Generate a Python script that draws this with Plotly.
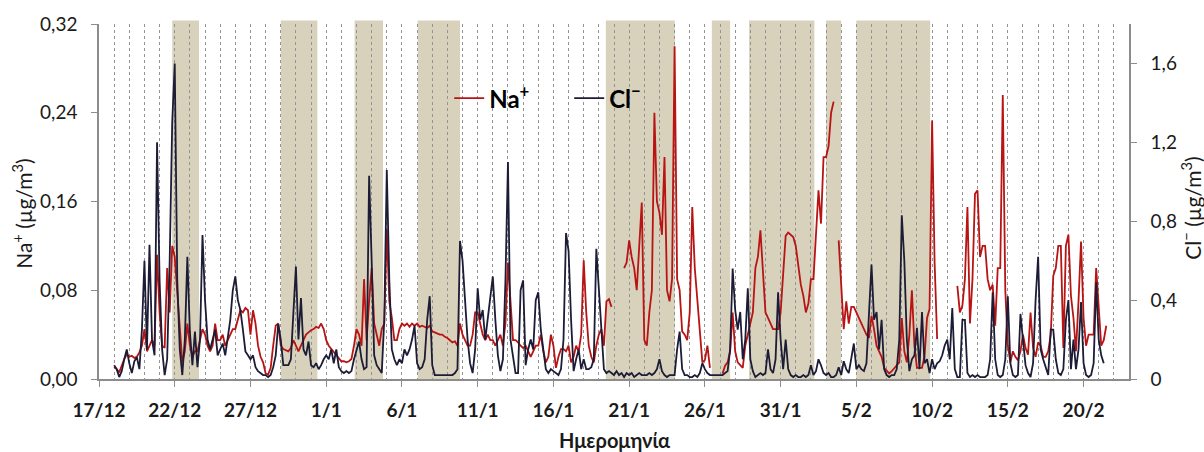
import plotly.graph_objects as go
import pandas as pd

# ---------------- data (4-hourly, starting 18/12 00:00) ----------------
START = "2013-12-18 00:00"
STEP = "4h"

NA = [
    0.011, 0.009, 0.006, 0.012, 0.018, 0.022,   # 18/12
    0.020, 0.021, 0.019, 0.020, 0.024, 0.030,   # 19/12
    0.045, 0.025, 0.030, 0.035, 0.030, 0.112,   # 20/12
    0.060, 0.030, 0.028, 0.100, 0.060, 0.120,   # 21/12
    0.110, 0.075, 0.040, 0.015, 0.025, 0.050,   # 22/12
    0.030, 0.020, 0.025, 0.025, 0.035, 0.045,   # 23/12
    0.040, 0.030, 0.025, 0.030, 0.050, 0.035,   # 24/12
    0.035, 0.040, 0.030, 0.035, 0.040, 0.045,   # 25/12
    0.045, 0.055, 0.062, 0.060, 0.064, 0.062,   # 26/12
    0.040, 0.062, 0.050, 0.030, 0.020, 0.015,   # 27/12
    0.005, 0.004, 0.010, 0.030, 0.048, 0.050,   # 28/12
    0.030, 0.027, 0.026, 0.025, 0.028, 0.035,   # 29/12
    0.030, 0.025, 0.030, 0.035, 0.040, 0.042,   # 30/12
    0.044, 0.045, 0.047, 0.046, 0.050, 0.045,   # 31/12
    0.035, 0.030, 0.027, 0.025, 0.022, 0.018,   # 1/1
    0.016, 0.016, 0.015, 0.016, 0.018, 0.030,   # 2/1
    0.045, 0.040, 0.030, 0.090, 0.035, 0.070,   # 3/1
    0.100, 0.050, 0.040, 0.030, 0.045, 0.050,   # 4/1
    0.135, 0.070, 0.055, 0.035, 0.035, 0.045,   # 5/1
    0.050, 0.048, 0.050, 0.047, 0.050, 0.048,   # 6/1
    0.050, 0.047, 0.048, 0.047, 0.046, 0.048,   # 7/1
    0.043, 0.042, 0.041, 0.040, 0.040, 0.038,   # 8/1
    0.037, 0.035, 0.033, 0.034, 0.030, 0.050,   # 9/1
    0.040, 0.035, 0.030, 0.030, 0.040, 0.060,   # 10/1
    0.060, 0.050, 0.040, 0.035, 0.040, 0.035,   # 11/1
    0.035, 0.030, 0.035, 0.040, 0.030, 0.050,   # 12/1
    0.105, 0.070, 0.035, 0.035, 0.033, 0.030,   # 13/1
    0.028, 0.030, 0.025, 0.020, 0.025, 0.030,   # 14/1
    0.030, 0.040, 0.025, 0.015, 0.020, 0.040,   # 15/1
    0.030, 0.010, 0.020, 0.027, 0.027, 0.025,   # 16/1
    0.030, 0.015, 0.020, 0.030, 0.025, 0.040,   # 17/1
    0.107, 0.060, 0.030, 0.020, 0.015, 0.030,   # 18/1
    0.040, 0.045, 0.030, 0.070, 0.072, 0.065,   # 19/1
    None, None, None, None, 0.100, 0.105,       # 20/1
    0.125, 0.110, 0.100, 0.080, 0.120, 0.159,   # 21/1
    0.035, 0.030, 0.060, 0.080, 0.240, 0.160,   # 22/1
    0.150, 0.130, 0.200, 0.080, 0.070, 0.090,   # 23/1
    0.300, 0.090, 0.080, 0.043, 0.040, 0.035,   # 24/1
    0.060, 0.155, 0.100, 0.070, 0.040, 0.015,   # 25/1
    0.017, 0.030, 0.010, None, None, None,      # 26/1
    None, 0.005, 0.012, 0.015, 0.025, 0.060,    # 27/1
    0.025, 0.015, 0.012, 0.010, 0.030, 0.040,   # 28/1
    0.050, 0.060, 0.100, 0.110, 0.134, 0.100,   # 29/1
    0.060, 0.055, 0.050, 0.045, 0.045, 0.045,   # 30/1
    0.060, 0.100, 0.129, 0.132, 0.130, 0.128,   # 31/1
    0.120, 0.100, 0.085, 0.075, 0.060, 0.068,   # 1/2
    0.090, 0.090, 0.130, 0.170, 0.140, 0.200,   # 2/2
    0.200, 0.210, 0.240, 0.250, None, 0.125,    # 3/2
    0.080, 0.045, 0.070, 0.050, 0.065, 0.065,   # 4/2
    0.060, 0.055, 0.050, 0.045, 0.040, 0.037,   # 5/2
    0.057, 0.045, 0.030, 0.025, 0.020, 0.010,   # 6/2
    0.007, 0.005, 0.007, 0.010, 0.012, 0.015,   # 7/2
    0.055, 0.025, 0.015, 0.040, 0.080, 0.030,   # 8/2
    0.010, 0.010, 0.010, 0.020, 0.055, 0.063,   # 9/2
    0.233, 0.105, 0.036, None, None, None,      # 10/2
    None, None, None, None, 0.084, 0.060,       # 11/2
    0.066, 0.090, 0.155, 0.050, 0.090, 0.167,   # 12/2
    0.170, 0.110, 0.120, 0.120, 0.090, 0.080,   # 13/2
    0.085, 0.048, 0.100, 0.100, 0.256, 0.080,   # 14/2
    0.030, 0.015, 0.025, 0.020, 0.017, 0.025,   # 15/2
    0.040, 0.028, 0.022, 0.060, 0.028, 0.020,   # 16/2
    0.033, 0.030, 0.020, 0.020, 0.025, 0.040,   # 17/2
    0.093, 0.100, 0.120, 0.120, 0.028, 0.120,   # 18/2
    0.130, 0.075, 0.055, 0.025, 0.070, 0.124,   # 19/2
    0.055, 0.030, 0.040, 0.040, 0.040, 0.100,   # 20/2
    0.060, 0.030, 0.035, 0.048,                 # 21/2
]

CL = [
    0.07, 0.05, 0.01, 0.04, 0.10, 0.15,   # 18/12
    0.08, 0.03, 0.09, 0.11, 0.05, 0.25,   # 19/12
    0.60, 0.15, 0.68, 0.20, 0.12, 1.20,   # 20/12
    0.50, 0.15, 0.02, 0.10, 0.60, 1.30,   # 21/12
    1.60, 0.50, 0.15, 0.02, 0.20, 0.62,   # 22/12
    0.24, 0.07, 0.24, 0.06, 0.20, 0.73,   # 23/12
    0.40, 0.20, 0.15, 0.20, 0.25, 0.12,   # 24/12
    0.15, 0.18, 0.12, 0.20, 0.30, 0.45,   # 25/12
    0.52, 0.40, 0.35, 0.25, 0.14, 0.12,   # 26/12
    0.10, 0.12, 0.06, 0.04, 0.03, 0.02,   # 27/12
    0.02, 0.01, 0.02, 0.06, 0.12, 0.28,   # 28/12
    0.20, 0.07, 0.07, 0.07, 0.10, 0.37,   # 29/12
    0.57, 0.20, 0.41, 0.15, 0.12, 0.19,   # 30/12
    0.07, 0.06, 0.08, 0.05, 0.07, 0.10,   # 31/12
    0.12, 0.10, 0.15, 0.08, 0.15, 0.06,   # 1/1
    0.04, 0.03, 0.04, 0.03, 0.04, 0.10,   # 2/1
    0.15, 0.19, 0.10, 0.05, 0.06, 1.03,   # 3/1
    0.60, 0.12, 0.07, 0.05, 0.03, 0.30,   # 4/1
    1.06, 0.50, 0.15, 0.10, 0.07, 0.10,   # 5/1
    0.08, 0.15, 0.12, 0.15, 0.20, 0.27,   # 6/1
    0.08, 0.05, 0.06, 0.10, 0.30, 0.42,   # 7/1
    0.07, 0.02, 0.02, 0.02, 0.02, 0.02,   # 8/1
    0.02, 0.02, 0.02, 0.03, 0.05, 0.70,   # 9/1
    0.60, 0.40, 0.20, 0.08, 0.03, 0.15,   # 10/1
    0.46, 0.30, 0.35, 0.20, 0.30, 0.40,   # 11/1
    0.52, 0.30, 0.12, 0.04, 0.10, 0.50,   # 12/1
    1.10, 0.20, 0.12, 0.03, 0.03, 0.45,   # 13/1
    0.50, 0.07, 0.15, 0.20, 0.15, 0.40,   # 14/1
    0.44, 0.25, 0.15, 0.05, 0.03, 0.05,   # 15/1
    0.04, 0.03, 0.02, 0.05, 0.20, 0.74,   # 16/1
    0.65, 0.30, 0.04, 0.10, 0.15, 0.05,   # 17/1
    0.10, 0.05, 0.05, 0.06, 0.10, 0.66,   # 18/1
    0.45, 0.20, 0.05, 0.03, 0.04, 0.03,   # 19/1
    0.02, 0.04, 0.02, 0.03, 0.01, 0.03,   # 20/1
    0.02, 0.03, 0.01, 0.02, 0.03, 0.02,   # 21/1
    0.02, 0.02, 0.03, 0.02, 0.03, 0.05,   # 22/1
    0.10, 0.04, 0.02, 0.01, 0.02, 0.02,   # 23/1
    0.02, 0.15, 0.24, 0.05, 0.02, 0.02,   # 24/1
    0.01, 0.01, 0.02, 0.01, 0.03, 0.08,   # 25/1
    0.05, 0.03, 0.02, 0.02, 0.02, 0.02,   # 26/1
    0.02, 0.02, 0.03, 0.04, 0.15, 0.56,   # 27/1
    0.35, 0.25, 0.34, 0.10, 0.20, 0.46,   # 28/1
    0.10, 0.04, 0.01, 0.02, 0.03, 0.02,   # 29/1
    0.03, 0.15, 0.05, 0.03, 0.10, 0.44,   # 30/1
    0.20, 0.05, 0.20, 0.05, 0.02, 0.01,   # 31/1
    0.02, 0.01, 0.01, 0.02, 0.01, 0.02,   # 1/2
    0.07, 0.02, 0.04, 0.10, 0.07, 0.03,   # 2/2
    0.02, 0.03, 0.01, 0.01, 0.02, 0.06,   # 3/2
    0.02, 0.09, 0.05, 0.03, 0.10, 0.18,   # 4/2
    0.05, 0.07, 0.05, 0.04, 0.08, 0.30,   # 5/2
    0.58, 0.30, 0.34, 0.15, 0.30, 0.05,   # 6/2
    0.02, 0.01, 0.02, 0.02, 0.05, 0.20,   # 7/2
    0.83, 0.60, 0.20, 0.04, 0.10, 0.12,   # 8/2
    0.26, 0.05, 0.34, 0.08, 0.10, 0.03,   # 9/2
    0.10, 0.05, 0.08, 0.09, 0.12, 0.17,   # 10/2
    0.20, 0.10, 0.36, 0.05, 0.01, 0.01,   # 11/2
    0.30, 0.30, 0.03, 0.01, 0.02, 0.01,   # 12/2
    0.02, 0.01, 0.01, 0.01, 0.02, 0.10,   # 13/2
    0.44, 0.10, 0.02, 0.01, 0.02, 0.10,   # 14/2
    0.42, 0.08, 0.02, 0.01, 0.02, 0.33,   # 15/2
    0.20, 0.07, 0.03, 0.01, 0.08, 0.40,   # 16/2
    0.62, 0.15, 0.10, 0.06, 0.02, 0.25,   # 17/2
    0.25, 0.10, 0.03, 0.02, 0.05, 0.30,   # 18/2
    0.40, 0.05, 0.20, 0.05, 0.15, 0.39,   # 19/2
    0.08, 0.02, 0.01, 0.02, 0.08, 0.49,   # 20/2
    0.20, 0.12, 0.08, None,               # 21/2
]

# shaded periods
SHADE_START = ["2013-12-21 20:00", "2013-12-29 00:00", "2014-01-02 21:00",
               "2014-01-07 01:00", "2014-01-19 11:00", "2014-01-26 11:00",
               "2014-01-28 22:00", "2014-02-03 00:00", "2014-02-05 00:00"]
SHADE_END = ["2013-12-23 14:30", "2013-12-31 10:00", "2014-01-04 18:00",
             "2014-01-09 20:00", "2014-01-24 00:30", "2014-01-27 16:00",
             "2014-02-02 05:30", "2014-02-04 00:00", "2014-02-09 21:00"]

X_RANGE = ["2013-12-17", "2014-02-23"]
X_TICK0 = "2013-12-17"
NA_TICKS = [0.0, 0.08, 0.16, 0.24, 0.32]
NA_TICKTEXT = ["0,00", "0,08", "0,16", "0,24", "0,32"]
CL_TICKS = [0.0, 0.4, 0.8, 1.2, 1.6]
CL_TICKTEXT = ["0", "0,4", "0,8", "1,2", "1,6"]

NA_NAME = "Na<sup>+</sup>"
CL_NAME = "Cl<sup>\u2212</sup>"
Y1_TITLE = "Na<sup>+</sup> (\u00b5g/m<sup>3</sup>)"
Y2_TITLE = "Cl<sup>\u2212</sup> (\u00b5g/m<sup>3</sup>)"
X_TITLE = "\u0397\u03bc\u03b5\u03c1\u03bf\u03bc\u03b7\u03bd\u03af\u03b1"

assert len(NA) == len(CL)
times = pd.date_range(START, periods=len(NA), freq=STEP)

FONT = "Lato, 'Open Sans', sans-serif"
AXIS_GRAY = "#8c8c8c"
DAY_MS = 86400000

fig = go.Figure()
fig.add_trace(go.Scatter(x=times, y=NA, name=NA_NAME, mode="lines",
                         line=dict(color="#b81414", width=1.8),
                         connectgaps=False, yaxis="y"))
fig.add_trace(go.Scatter(x=times, y=CL, name=CL_NAME, mode="lines",
                         line=dict(color="#1c1c36", width=1.8),
                         connectgaps=False, yaxis="y2"))

for s, e in zip(SHADE_START, SHADE_END):
    fig.add_shape(type="rect", xref="x", yref="paper", x0=s, x1=e,
                  y0=0, y1=1.01, fillcolor="#d8d2bc", line_width=0,
                  layer="below")

fig.update_layout(
    width=1204, height=452,
    margin=dict(l=99, r=75, t=22, b=73),
    paper_bgcolor="white", plot_bgcolor="white",
    font=dict(family=FONT, size=19, color="#1a1a1a"),
    showlegend=True,
    legend=dict(orientation="h", x=0.340, y=0.79, xanchor="left",
                yanchor="middle", bgcolor="rgba(0,0,0,0)",
                font=dict(size=24, weight="bold", color="#000000"),
                entrywidth=75, itemwidth=30),
    xaxis=dict(
        type="date", range=X_RANGE, tick0=X_TICK0, dtick=5 * DAY_MS,
        tickformat="%-d/%-m", showline=True, linecolor=AXIS_GRAY,
        linewidth=1.5, ticks="outside", ticklen=6, tickcolor=AXIS_GRAY,
        tickfont=dict(size=19, weight="bold"), ticklabelstandoff=7,
        showgrid=True, gridcolor="#939393", griddash="dot", gridwidth=1,
        minor=dict(dtick=DAY_MS, tick0=X_TICK0, showgrid=True,
                   gridcolor="#939393", griddash="dot", gridwidth=1),
        zeroline=False,
    ),
    yaxis=dict(
        range=[0, 0.32], tickvals=NA_TICKS, ticktext=NA_TICKTEXT,
        showline=True, linecolor=AXIS_GRAY, linewidth=1.5,
        ticks="outside", ticklen=6, tickcolor=AXIS_GRAY,
        ticklabelstandoff=10, showgrid=False, zeroline=False,
    ),
    yaxis2=dict(
        range=[0, 1.8], tickvals=CL_TICKS, ticktext=CL_TICKTEXT,
        overlaying="y", side="right", anchor="x",
        showline=True, linecolor=AXIS_GRAY, linewidth=1.5,
        ticks="outside", ticklen=6, tickcolor=AXIS_GRAY,
        ticklabelstandoff=10, showgrid=False, zeroline=False,
    ),
    annotations=[
        dict(text=Y1_TITLE, xref="paper", yref="paper", x=-0.0748, y=0.468,
             textangle=-90, showarrow=False, xanchor="center",
             yanchor="middle", font=dict(size=21)),
        dict(text=Y2_TITLE, xref="paper", yref="paper", x=1.060, y=0.482,
             textangle=-90, showarrow=False, xanchor="center",
             yanchor="middle", font=dict(size=21)),
        dict(text=X_TITLE, xref="paper", yref="paper", x=0.5, y=-0.171,
             showarrow=False, xanchor="center", yanchor="middle",
             font=dict(size=20, weight="bold")),
    ],
)

fig.write_html("out.html")
